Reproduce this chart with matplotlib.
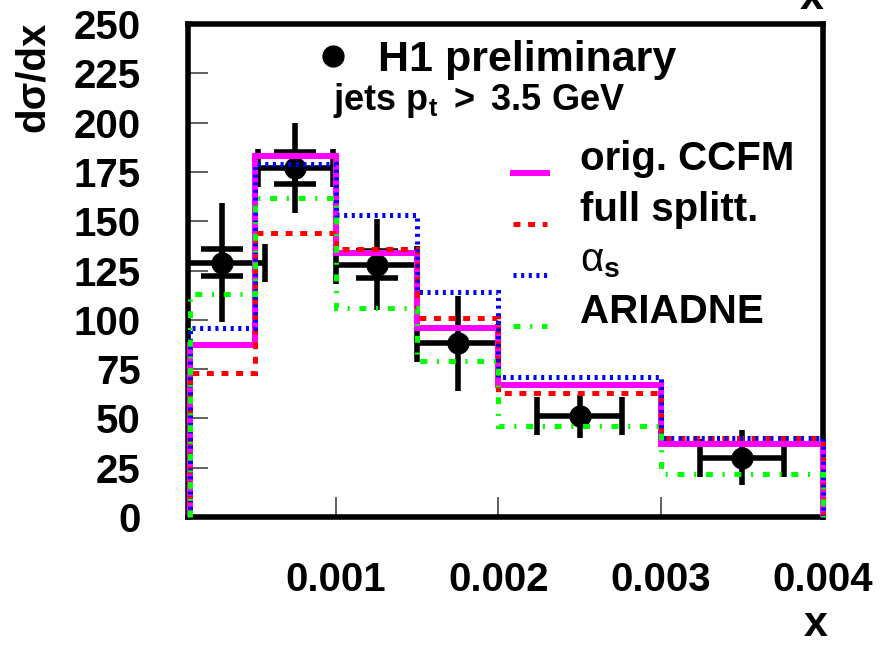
import matplotlib
matplotlib.use('Agg')
import matplotlib.pyplot as plt
from matplotlib.lines import Line2D
from matplotlib.legend_handler import HandlerLine2D

plt.rcParams['font.family'] = ['Liberation Sans', 'DejaVu Sans']
plt.rcParams['font.weight'] = 'bold'
plt.rcParams['mathtext.fontset'] = 'custom'
plt.rcParams['mathtext.rm'] = 'Liberation Sans:bold'
plt.rcParams['mathtext.bf'] = 'Liberation Sans:bold'
plt.rcParams['mathtext.it'] = 'Liberation Sans:weight=normal'
plt.rcParams['mathtext.default'] = 'it'
plt.rcParams['lines.scale_dashes'] = False

# bin edges in x
edges = [0.0001, 0.0005, 0.001, 0.0015, 0.002, 0.003, 0.004]

# model predictions (dsigma/dx per bin)
orig_ccfm = [87, 183, 134, 96, 67, 37]
full_splitt = [73, 144, 136, 101, 63, 40]
alpha_s = [96, 179, 153, 114, 71, 40]
ariadne = [113, 162, 106, 79, 46, 22]

# H1 preliminary data
data_x = [0.0003, 0.00075, 0.00125, 0.00175, 0.0025, 0.0035]
data_y = [129, 177, 128, 88, 51, 30]
data_xerr = [0.00026, 0.00023, 0.00025, 0.00025, 0.00026, 0.00026]
data_tot = [30, 23, 23, 24, 11, 14]
# statistical error only visible for the first three points
stat_x = [0.0003, 0.00075, 0.00125]
stat_y = [129, 177, 128]
stat_err = [7, 8, 7]

y_ticks = [0, 25, 50, 75, 100, 125, 150, 175, 200, 225, 250]
x_ticks = [0.001, 0.002, 0.003, 0.004]
x_ticklabels = ['0.001', '0.002', '0.003', '0.004']


class HandlerLow(HandlerLine2D):
    # ROOT puts the legend line a bit under the text middle
    def create_artists(self, legend, orig_handle, xdescent, ydescent,
                       width, height, fontsize, trans):
        artists = super().create_artists(legend, orig_handle, xdescent,
                                         ydescent, width, height, fontsize,
                                         trans)
        for a in artists:
            a.set_ydata([y - 0.42 * fontsize for y in a.get_ydata()])
        return artists


fig = plt.figure(figsize=(8.84, 6.46), dpi=100)
ax = fig.add_axes([188 / 884, 1 - 517 / 646, 635 / 884, 493 / 646])

# data points: total error, x error with caps, stat error caps, marker
ax.errorbar(data_x, data_y, yerr=data_tot, fmt='none', ecolor='black',
            elinewidth=4, capsize=0, zorder=2)
ax.errorbar(data_x, data_y, xerr=data_xerr, fmt='none', ecolor='black',
            elinewidth=4, capsize=14, capthick=4, zorder=2)
ax.errorbar(stat_x, stat_y, yerr=stat_err, fmt='none', ecolor='black',
            elinewidth=4, capsize=15, capthick=4, zorder=2)
ax.plot(data_x, data_y, 'o', color='black', markersize=15, zorder=2.2)

ax.stairs(orig_ccfm, edges, baseline=0, color='#ff00ff', linewidth=4.3,
          zorder=3, clip_on=False)
ax.stairs(full_splitt, edges, baseline=0, color='#ff0000', linewidth=3.6,
          linestyle=(0, (5, 5.5)), zorder=3.1, clip_on=False)
ax.stairs(alpha_s, edges, baseline=0, color='#0000ff', linewidth=3.6,
          linestyle=(0, (2.2, 3.3)), zorder=3.2, clip_on=False)
ax.stairs(ariadne, edges, baseline=0, color='#00ff00', linewidth=3.6,
          linestyle=(0, (5, 7, 1.5, 7)), zorder=3.3, clip_on=False)

ax.set_xlim(0.000088, 0.004)
ax.set_ylim(0, 250)
ax.set_yticks(y_ticks)
ax.set_xticks(x_ticks)
ax.set_xticklabels(x_ticklabels)
ax.tick_params(direction='in', length=14.5, width=1.2, color='#444444',
               labelsize=29, pad=34)
ax.tick_params(axis='x', pad=32)
for s in ax.spines.values():
    s.set_linewidth(4)

fig.text(33 / 884, 1 - 22 / 646, 'd\u03c3/dx', rotation=90, ha='center',
         va='top', fontsize=29)
fig.text(816 / 884, 1 / 646, 'x', ha='center', va='bottom', fontsize=31)
fig.text(812 / 884, 1 - 9 / 646, 'x', ha='center', va='baseline', fontsize=31)

h1 = Line2D([], [], linestyle='none', marker='o', color='black', markersize=15)
leg1 = ax.legend([h1], ['H1 preliminary'], loc='upper left',
                 bbox_to_anchor=(311 / 884, 1 - 40 / 646),
                 bbox_transform=fig.transFigure, frameon=False, fontsize=31,
                 handlelength=1.0, handletextpad=0.55, borderpad=0,
                 borderaxespad=0)
ax.add_artist(leg1)
fig.text(333 / 884, 1 - 100 / 646, r'jets p$_\mathbf{t}$ $>$ 3.5 GeV',
         ha='left', va='center', fontsize=26)

handles = [
    Line2D([], [], color='#ff00ff', linewidth=4.3),
    Line2D([], [], color='#ff0000', linewidth=3.6, linestyle=(0, (5, 5.5))),
    Line2D([], [], color='#0000ff', linewidth=3.6, linestyle=(0, (2.2, 3.3))),
    Line2D([], [], color='#00ff00', linewidth=3.6, linestyle=(0, (5, 7, 1.5, 7))),
]
labels = ['orig. CCFM', 'full splitt.', r'$\alpha_\mathbf{s}$', 'ARIADNE']
ax.legend(handles, labels, loc='upper left',
          bbox_to_anchor=(513 / 884, 1 - 140 / 646),
          bbox_transform=fig.transFigure, frameon=False, fontsize=29,
          handlelength=0.84, handletextpad=0.82, labelspacing=0.32,
          borderpad=0, borderaxespad=0,
          handler_map={Line2D: HandlerLow()})

fig.savefig('out.png', dpi=100)
